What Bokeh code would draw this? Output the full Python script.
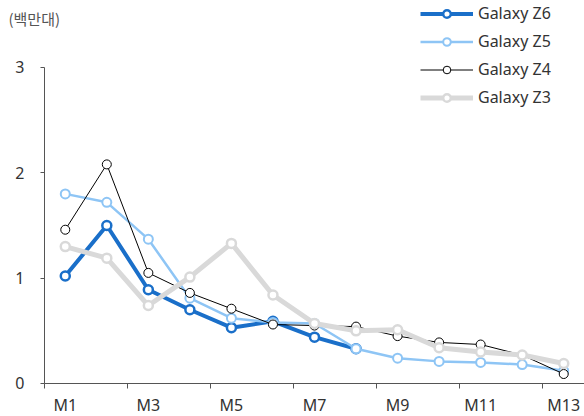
from bokeh.plotting import figure
from bokeh.models import Range1d, FixedTicker, Legend, Label
from bokeh.embed import file_html
from bokeh.resources import INLINE

months = ["M1", "M2", "M3", "M4", "M5", "M6", "M7", "M8", "M9", "M10", "M11", "M12", "M13"]
z6 = [1.02, 1.50, 0.89, 0.70, 0.53, 0.59, 0.44, 0.33]
z5 = [1.80, 1.72, 1.37, 0.81, 0.62, 0.58, 0.57, 0.33, 0.24, 0.21, 0.20, 0.18, 0.12]
z4 = [1.46, 2.08, 1.05, 0.86, 0.71, 0.56, 0.55, 0.54, 0.45, 0.39, 0.37, 0.27, 0.09]
z3 = [1.30, 1.19, 0.74, 1.01, 1.33, 0.84, 0.57, 0.50, 0.51, 0.34, 0.30, 0.27, 0.19]
y_ticks = [0, 1, 2, 3]
unit_label = "(백만대)"

FONT = "Noto Sans"
KFONT = "Noto Sans CJK KR"

# frame spans the whole canvas; axes are pinned at x = 0.5 and y = 0
p = figure(width=584, height=416, output_backend="svg", toolbar_location=None,
           x_range=Range1d(-0.5593, 13.5), y_range=Range1d(-0.3133, 3.636),
           min_border_left=0, min_border_right=0, min_border_bottom=0, min_border_top=0)
p.outline_line_color = None
p.xgrid.visible = False
p.ygrid.visible = False
p.background_fill_color = "white"

xs = list(range(1, len(months) + 1))

series = [
    ("Galaxy Z6", z6, "#1a6fc9", 4, 2.5),
    ("Galaxy Z5", z5, "#8ec5f5", 2.5, 2),
    ("Galaxy Z4", z4, "#000000", 1, 1),
    ("Galaxy Z3", z3, "#d9d9d9", 5, 2.5),
]
items = []
for name, vals, color, lw, mlw in series:
    x = xs[:len(vals)]
    r1 = p.line(x, vals, line_color=color, line_width=lw)
    r2 = p.scatter(x, vals, size=9, fill_color="white", line_color=color, line_width=mlw)
    items.append((name, [r1, r2]))

legend = Legend(items=items, location=(420, 308), orientation="vertical")
legend.glyph_width = 53
legend.glyph_height = 19
legend.label_height = 19
legend.spacing = 6
legend.padding = 0
legend.margin = 0
legend.label_standoff = 5
legend.border_line_color = None
legend.background_fill_alpha = 0
legend.label_text_font = FONT
legend.label_text_font_size = "16px"
legend.label_text_color = "#333333"
p.add_layout(legend, "center")

# x axis
p.xaxis.fixed_location = 0
p.xaxis.ticker = FixedTicker(ticks=[1, 3, 5, 7, 9, 11, 13],
                             minor_ticks=[0.5, 2.5, 4.5, 6.5, 8.5, 10.5, 12.5])
p.xaxis.major_label_overrides = {i: months[i - 1] for i in [1, 3, 5, 7, 9, 11, 13]}
p.xaxis.bounds = (0.5, 13.5)
p.xaxis.major_tick_line_color = None
p.xaxis.major_tick_out = 0
p.xaxis.major_tick_in = 0
p.xaxis.minor_tick_out = 5
p.xaxis.minor_tick_in = 0
p.xaxis.minor_tick_line_color = "#555555"
p.xaxis.axis_line_color = "#555555"
p.xaxis.axis_label_standoff = 0
p.xaxis.major_label_standoff = 6
p.xaxis.major_label_text_font = FONT
p.xaxis.major_label_text_font_size = "16px"
p.xaxis.major_label_text_color = "#333333"

# y axis
p.yaxis.fixed_location = 0.5
p.yaxis.ticker = FixedTicker(ticks=y_ticks, minor_ticks=[])
p.yaxis.bounds = (0, 3)
p.yaxis.major_tick_out = 4
p.yaxis.major_tick_in = 0
p.yaxis.minor_tick_line_color = None
p.yaxis.major_tick_line_color = "#555555"
p.yaxis.axis_line_color = "#555555"
p.yaxis.major_label_standoff = 16
p.yaxis.major_label_text_font = FONT
p.yaxis.major_label_text_font_size = "16px"
p.yaxis.major_label_text_color = "#333333"

lab = Label(x=-0.3666, y=3.465, text=unit_label, anchor="center_left",
            text_font=KFONT, text_font_size="15px", text_color="#555555")
p.add_layout(lab)

open("out.html", "w").write(file_html(p, INLINE))
